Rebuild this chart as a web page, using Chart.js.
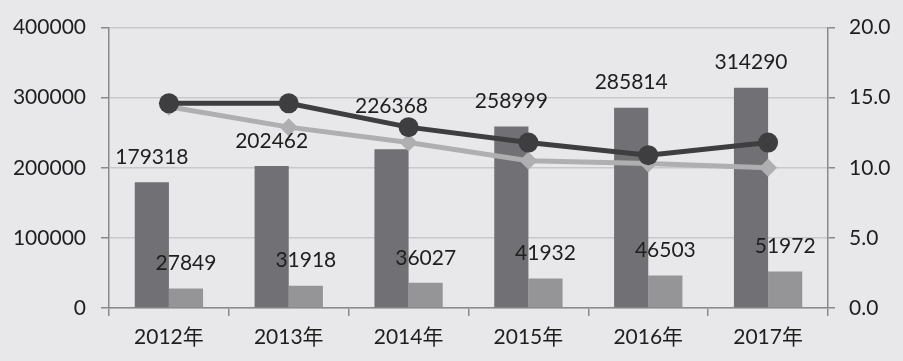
<!DOCTYPE html>
<html lang="zh">
<head>
    <meta charset="UTF-8">
    <title>Chart</title>
    <script src="https://cdn.jsdelivr.net/npm/chart.js"></script>
    <style>
        html, body {
            margin: 0;
            padding: 0;
            background-color: #e8e8ea;
        }
        .wrap {
            width: 903px;
            height: 361px;
        }
    </style>
</head>
<body>
    <div class="wrap"><canvas id="chart" width="903" height="361"></canvas></div>

    <script>
        const years = ['2012年', '2013年', '2014年', '2015年', '2016年', '2017年'];
        const barsA = [179318, 202462, 226368, 258999, 285814, 314290];
        const barsB = [27849, 31918, 36027, 41932, 46503, 51972];
        const lineA = [14.6, 14.6, 12.9, 11.8, 10.9, 11.8];
        const lineB = [14.35, 12.9, 11.8, 10.5, 10.3, 10.0];
        const leftTicks = [0, 100000, 200000, 300000, 400000];

        const FONT = "Lato, 'Noto Sans CJK SC', sans-serif";
        const AXIS = '#8a8a8c';

        const bgPlugin = {
            id: 'bg',
            beforeDraw(chart) {
                const ctx = chart.ctx;
                ctx.save();
                ctx.fillStyle = '#e8e8ea';
                ctx.fillRect(0, 0, chart.width, chart.height);
                ctx.restore();
            }
        };

        // value labels above the bars (the 2014 one was moved up in the original)
        const barLabels = {
            id: 'barLabels',
            afterDraw(chart) {
                const ctx = chart.ctx;
                ctx.save();
                ctx.font = '21px ' + FONT;
                ctx.fillStyle = '#1e1e1e';
                ctx.textAlign = 'center';
                ctx.textBaseline = 'middle';
                [0, 1].forEach(i => {
                    const meta = chart.getDatasetMeta(i);
                    meta.data.forEach((bar, j) => {
                        const v = chart.data.datasets[i].data[j];
                        let lift = 25;
                        if (i === 0 && j === 2) lift = 43;
                        ctx.fillText(String(v), bar.x, bar.y - lift);
                    });
                });
                ctx.restore();
            }
        };

        new Chart(document.getElementById('chart'), {
            data: {
                labels: years,
                datasets: [
                    {
                        type: 'bar',
                        data: barsA,
                        backgroundColor: '#717175',
                        yAxisID: 'y',
                        order: 2
                    },
                    {
                        type: 'bar',
                        data: barsB,
                        backgroundColor: '#959598',
                        yAxisID: 'y',
                        order: 2
                    },
                    {
                        type: 'line',
                        data: lineA,
                        borderColor: '#3e3e41',
                        backgroundColor: '#3e3e41',
                        borderWidth: 5,
                        pointStyle: 'circle',
                        pointRadius: 10,
                        pointBorderWidth: 0,
                        yAxisID: 'y2',
                        order: 0
                    },
                    {
                        type: 'line',
                        data: lineB,
                        borderColor: '#afafb1',
                        backgroundColor: '#afafb1',
                        borderWidth: 5,
                        pointStyle: 'rectRot',
                        pointRadius: 9,
                        pointBorderWidth: 0,
                        yAxisID: 'y2',
                        order: 1
                    }
                ]
            },
            options: {
                responsive: false,
                animation: false,
                layout: { padding: { top: 25, left: 0, right: 0, bottom: 0 } },
                plugins: {
                    legend: { display: false },
                    tooltip: { enabled: false }
                },
                datasets: {
                    bar: { categoryPercentage: 0.57, barPercentage: 1 }
                },
                scales: {
                    x: {
                        grid: {
                            offset: true,
                            drawOnChartArea: false,
                            tickLength: 8,
                            tickColor: AXIS,
                            lineWidth: 1.5
                        },
                        border: { color: AXIS, width: 1.5 },
                        ticks: {
                            color: '#1e1e1e',
                            font: { family: FONT, size: 21 },
                            padding: 9
                        },
                        afterFit(scale) { scale.height = 53; }
                    },
                    y: {
                        position: 'left',
                        min: 0,
                        max: 400000,
                        afterBuildTicks(scale) {
                            scale.ticks = leftTicks.map(v => ({ value: v }));
                        },
                        grid: {
                            color: '#c8c8ca',
                            lineWidth: 1.5,
                            tickLength: 8,
                            tickColor: AXIS
                        },
                        border: { color: AXIS, width: 1.5 },
                        ticks: {
                            color: '#1e1e1e',
                            font: { family: FONT, size: 21 },
                            padding: 15,
                            callback: v => String(v)
                        },
                        afterFit(scale) { scale.width = 109; }
                    },
                    y2: {
                        position: 'right',
                        min: 0,
                        max: 20,
                        grid: {
                            drawOnChartArea: false,
                            tickLength: 7,
                            tickColor: AXIS,
                            lineWidth: 1.5
                        },
                        border: { color: AXIS, width: 1.5 },
                        ticks: {
                            stepSize: 5,
                            color: '#1e1e1e',
                            font: { family: FONT, size: 21 },
                            padding: 14,
                            callback: v => v.toFixed(1)
                        },
                        afterFit(scale) { scale.width = 75; }
                    }
                }
            },
            plugins: [bgPlugin, barLabels]
        });
    </script>
</body>
</html>
